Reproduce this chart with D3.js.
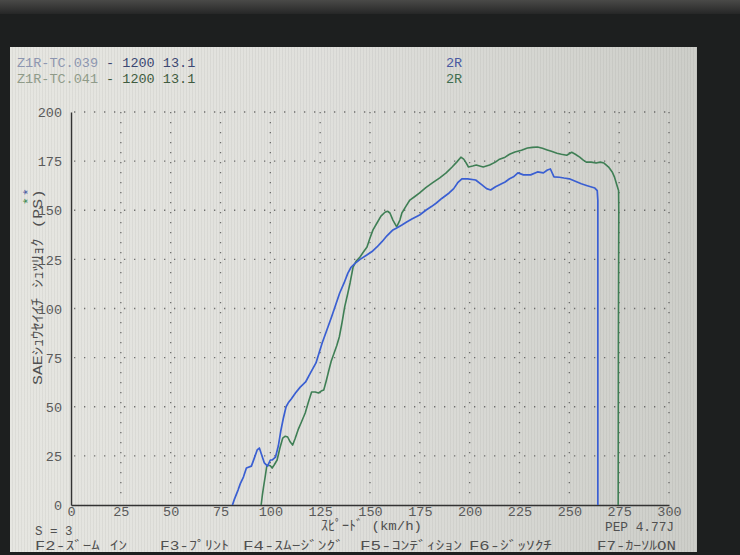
<!DOCTYPE html>
<html>
<head>
<meta charset="utf-8">
<script src="https://cdn.jsdelivr.net/npm/d3@7/dist/d3.min.js"></script>
<style>
  html, body { margin: 0; padding: 0; background: #1c1e1e; }
  svg { display: block; }
</style>
</head>
<body>
<svg id="chart" width="740" height="555"></svg>
<script>
// ---------- data ----------
const xTicks = [0, 25, 50, 75, 100, 125, 150, 175, 200, 225, 250, 275, 300];
const yTicks = [0, 25, 50, 75, 100, 125, 150, 175, 200];

// run Z1R-TC.039 (blue) : speed km/h , power PS
const blueSpeed = [81, 82, 83.8, 85, 86.5, 88, 90.5, 92, 93.4, 94.5, 95.5, 97, 98.6, 100, 101, 102.6, 104, 105.3, 106.5, 107.9, 109, 110.5, 112.6, 115, 117.7, 120, 122.9, 126, 128, 130.7, 132.5, 134.8, 137, 138.9, 140.5, 142.5, 145, 148.4, 151, 153.5, 156, 158.5, 161.5, 163.4, 166, 168.4, 171, 174.9, 178, 181, 183.3, 186, 189.7, 192, 194, 196.1, 199, 203, 206, 208.5, 210.5, 213, 215, 217.8, 220, 222, 224.2, 227, 230.6, 234, 237, 239, 240.5, 242.3, 245, 247.3, 250, 253.9, 256, 259, 262.8, 264, 264.3, 264.3];
const bluePower = [0, 3, 7.6, 11, 14.2, 18.8, 19.8, 24, 28, 29, 26, 21.4, 19.8, 22.9, 23, 24.4, 30, 38, 44, 50, 52, 54, 57, 60, 62.6, 67, 72.3, 82.4, 88, 95.7, 101, 107.9, 113, 118, 121, 123, 125, 127.2, 129, 131.3, 134, 137, 140, 141, 142.5, 144, 145.5, 147.6, 150, 152, 153.7, 156, 158.8, 161, 164, 166, 166, 165.4, 163, 161, 160.3, 162, 163, 164.4, 166, 167, 169, 168, 168, 169.5, 169, 170.5, 171, 167, 166.8, 166.4, 166, 164.4, 163.5, 162.5, 161.3, 160, 155, 0];

// run Z1R-TC.041 (green)
const greenSpeed = [95.4, 96, 96.6, 97.5, 98.3, 100, 100.9, 102, 103.4, 104.8, 106.2, 107.5, 108.7, 110, 111.2, 112.5, 113.9, 115.5, 117.5, 119, 120.7, 122.5, 124.2, 125.5, 126.8, 128, 129.4, 130.5, 132, 133.3, 134.6, 136, 137.3, 138.7, 140, 141.5, 143, 145, 146.5, 148.5, 150, 151.5, 153.5, 155.5, 157.5, 158.8, 160, 161.5, 163.4, 165, 166, 168, 170, 172.5, 174.9, 178, 181.3, 185, 188.2, 191.2, 193.5, 195.6, 197, 198, 199.4, 201.5, 203.3, 205, 206.8, 210, 212.9, 215, 217.8, 220, 222.7, 226, 229, 231.5, 234, 236.5, 238.9, 241, 243.8, 246, 248.7, 251.2, 253, 255.2, 257, 258.5, 261, 263.4, 265.5, 267.4, 269.7, 271.5, 272.6, 273.8, 274.7, 274.8, 274.6, 274.5];
const greenPower = [0, 5, 9.2, 15, 20.4, 20, 18.8, 20.5, 22.9, 29, 34, 35, 34.6, 32, 30.5, 34, 38.2, 42, 46.8, 52, 57.5, 57.5, 57, 58, 58.5, 63, 68.7, 73, 77.4, 81, 85.5, 93, 100.8, 107, 113, 121, 124, 126.2, 128.5, 131.3, 135.9, 140, 143.5, 147, 149, 149.5, 148.6, 145, 141.5, 145, 148.6, 152, 155.2, 157, 158.8, 161.5, 163.9, 166.5, 169, 172, 174.5, 177, 176, 174.5, 172, 172.5, 173, 172.5, 172, 173, 174.5, 176, 177, 178.5, 179.6, 180.5, 181.7, 182, 182.2, 181.5, 180.7, 180, 179, 178.5, 178, 179.5, 178.5, 177, 175.5, 174.5, 174.5, 174, 174.5, 174, 172, 169.5, 167, 163, 160, 150, 80, 0];

const headerLines = [
  { file: "Z1R-TC.039", rest: " - 1200 13.1", tag: "2R" },
  { file: "Z1R-TC.041", rest: " - 1200 13.1", tag: "2R" }
];
const xTitle = "ｽﾋﾟｰﾄﾞ (km/h)";
const yTitle = "SAEｼｭｳｾｲｲﾁ ｼｭﾂﾘｮｸ (PS)";
const statusLeft = "S = 3";
const statusRight = "PEP 4.77J";
const fkeys = ["F2-ｽﾞｰﾑ ｲﾝ", "F3-ﾌﾟﾘﾝﾄ", "F4-ｽﾑｰｼﾞﾝｸﾞ", "F5-ｺﾝﾃﾞｨｼｮﾝ", "F6-ｼﾞｯｿｸﾁ", "F7-ｶｰｿﾙON"];

// ---------- drawing ----------
const svg = d3.select("#chart");
const FONT = "'Liberation Mono', 'DejaVu Sans Mono', 'Noto Sans CJK JP', monospace";
const defs = svg.append("defs");

// monitor surroundings
const wall = defs.append("linearGradient").attr("id", "wall").attr("x1", 0).attr("x2", 0).attr("y1", 0).attr("y2", 1);
wall.append("stop").attr("offset", "0").attr("stop-color", "#4a4a48");
wall.append("stop").attr("offset", "1").attr("stop-color", "#262727");
svg.append("rect").attr("width", 740).attr("height", 555).attr("fill", "#1d1f1f");
svg.append("rect").attr("width", 740).attr("height", 14).attr("fill", "url(#wall)");

// screen
const scr = defs.append("linearGradient").attr("id", "scr").attr("x1", 0).attr("x2", 1).attr("y1", 0).attr("y2", 0);
scr.append("stop").attr("offset", "0").attr("stop-color", "#e6e6e1");
scr.append("stop").attr("offset", "0.45").attr("stop-color", "#e0e0dc");
scr.append("stop").attr("offset", "1").attr("stop-color", "#cdcec9");
svg.append("rect").attr("x", 10).attr("y", 47).attr("width", 687).attr("height", 505).attr("fill", "url(#scr)");
const pat = defs.append("pattern").attr("id", "stripes").attr("width", 3).attr("height", 10).attr("patternUnits", "userSpaceOnUse");
pat.append("rect").attr("width", 1).attr("height", 10).attr("fill", "#000").attr("opacity", 0.045);
svg.append("rect").attr("x", 10).attr("y", 47).attr("width", 687).attr("height", 505).attr("fill", "url(#stripes)");

const x = d3.scaleLinear().domain([0, 300]).range([71, 669]);
const y = d3.scaleLinear().domain([0, 200]).range([505, 112]);

// dotted grid
const grid = svg.append("g").attr("stroke", "#4a4a4a").attr("stroke-width", 1.3)
  .attr("stroke-dasharray", "1.3,8.7").attr("opacity", 0.75);
grid.selectAll("line.h").data(yTicks.filter(d => d > 0)).join("line")
  .attr("x1", x(0) + 3).attr("x2", x(300)).attr("y1", d => y(d)).attr("y2", d => y(d));
grid.selectAll("line.v").data(xTicks.filter(d => d > 0)).join("line")
  .attr("x1", d => x(d)).attr("x2", d => x(d)).attr("y1", y(200)).attr("y2", y(0) - 3);

// axes
const xAxis = d3.axisBottom(x).tickValues(xTicks).tickSize(0).tickPadding(1);
const yAxis = d3.axisLeft(y).tickValues(yTicks).tickSize(0).tickPadding(9);
const gx = svg.append("g").attr("transform", `translate(0,${y(0)})`).call(xAxis);
const gy = svg.append("g").attr("transform", `translate(${x(0)},0)`).call(yAxis);
[gx, gy].forEach(g => {
  g.select(".domain").attr("stroke", "#333").attr("stroke-width", 1.4);
  g.selectAll("text").attr("font-family", FONT).attr("font-size", 13.5).attr("fill", "#5a5a5a");
});
gy.selectAll("text").attr("dy", "0.35em");

// curves
const line = d3.line().x(d => x(d[0])).y(d => y(d[1])).curve(d3.curveLinear);
const blue = d3.zip(blueSpeed, bluePower);
const green = d3.zip(greenSpeed, greenPower);
svg.append("path").datum(green).attr("d", line).attr("fill", "none")
  .attr("stroke", "#3f7f55").attr("stroke-width", 1.6).attr("stroke-linejoin", "round");
svg.append("path").datum(blue).attr("d", line).attr("fill", "none")
  .attr("stroke", "#3a5fd2").attr("stroke-width", 1.7).attr("stroke-linejoin", "round");

// header
const hdrColors = [
  { file: "#8d96b0", rest: "#3b4772", tag: "#4a5aa2" },
  { file: "#8f9b89", rest: "#3f5c40", tag: "#3f6e50" }
];
headerLines.forEach((h, i) => {
  const t = svg.append("text").attr("x", 17).attr("y", 67 + i * 16)
    .attr("font-family", FONT).attr("font-size", 13.5);
  t.append("tspan").attr("fill", hdrColors[i].file).text(h.file);
  t.append("tspan").attr("fill", hdrColors[i].rest).attr("xml:space", "preserve").text(h.rest);
  svg.append("text").attr("x", 446).attr("y", 67 + i * 16)
    .attr("font-family", FONT).attr("font-size", 13.5).attr("fill", hdrColors[i].tag).text(h.tag);
});

// axis titles
svg.append("text").attr("x", 321).attr("y", 530).attr("font-family", FONT).attr("font-size", 13.5)
  .attr("fill", "#505050").attr("textLength", 101).attr("lengthAdjust", "spacingAndGlyphs").text(xTitle);
svg.append("text").attr("transform", "translate(42,385) rotate(-90)")
  .attr("font-family", FONT).attr("font-size", 13.5).attr("fill", "#505050")
  .attr("textLength", 196).attr("lengthAdjust", "spacingAndGlyphs").text(yTitle);
svg.append("text").attr("transform", "translate(32,196) rotate(-90)").attr("font-family", FONT)
  .attr("font-size", 13).attr("fill", "#4a5aa2").text("*");
svg.append("text").attr("transform", "translate(32,205) rotate(-90)").attr("font-family", FONT)
  .attr("font-size", 13).attr("fill", "#3f8a50").text("*");

// status lines
svg.append("text").attr("x", 35).attr("y", 535).attr("font-family", FONT).attr("font-size", 12.5)
  .attr("fill", "#505050").attr("xml:space", "preserve").text(statusLeft);
svg.append("text").attr("x", 605).attr("y", 531).attr("font-family", FONT).attr("font-size", 12.5)
  .attr("fill", "#505050").attr("textLength", 69).attr("lengthAdjust", "spacingAndGlyphs")
  .attr("xml:space", "preserve").text(statusRight);
const fkPos = [[35, 92], [160, 69], [243, 101], [360, 102], [469, 83], [597, 79]];
fkeys.forEach((f, i) => {
  svg.append("text").attr("x", fkPos[i][0]).attr("y", 550).attr("font-family", FONT).attr("font-size", 12.5)
    .attr("fill", "#505050").attr("textLength", fkPos[i][1]).attr("lengthAdjust", "spacingAndGlyphs")
    .attr("xml:space", "preserve").text(f);
});
</script>
</body>
</html>
